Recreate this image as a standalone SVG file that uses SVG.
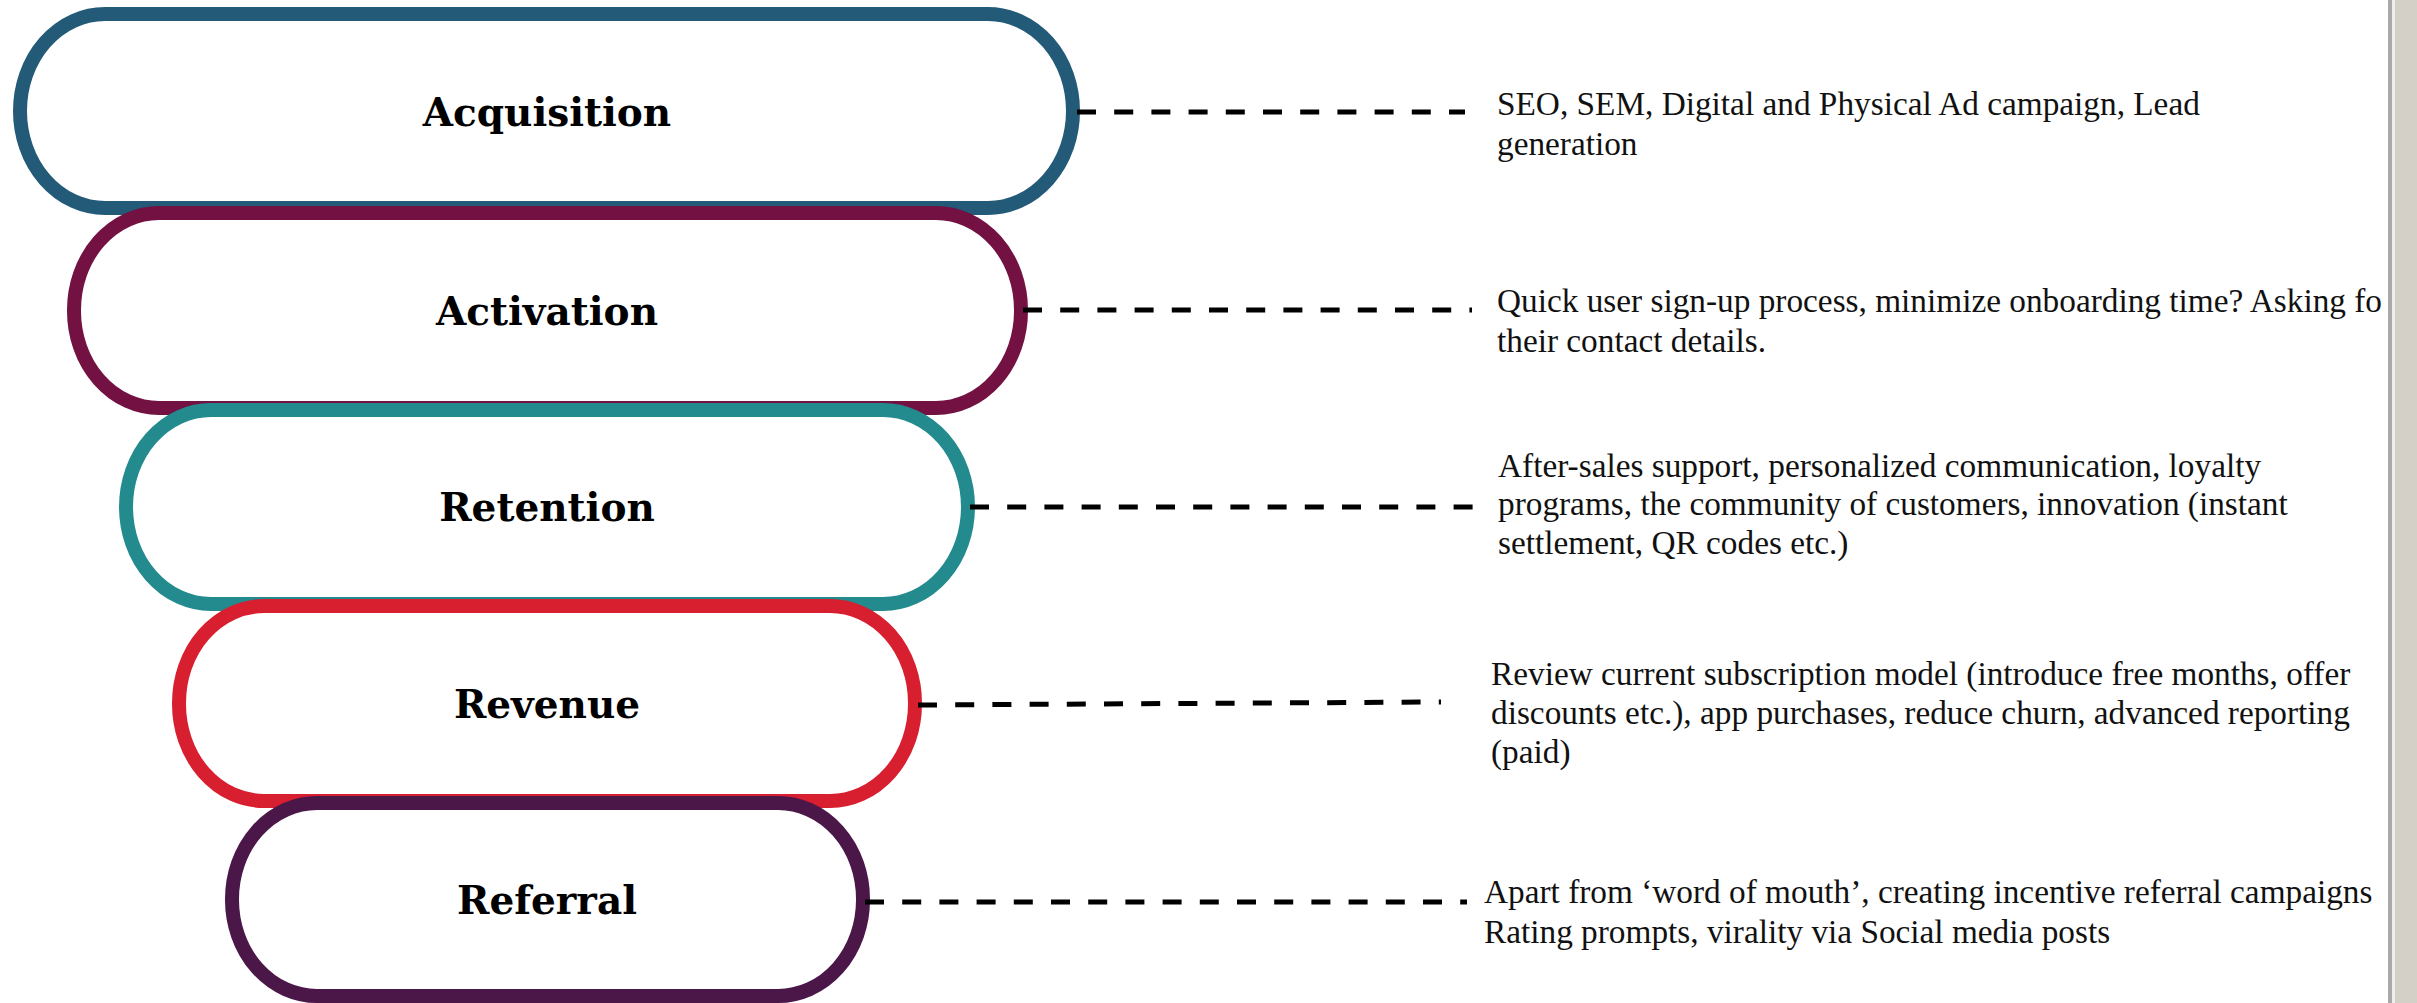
<svg xmlns="http://www.w3.org/2000/svg" width="2417" height="1003" viewBox="0 0 2417 1003">
<style>
.pill{fill:#ffffff;stroke-width:14}
.lbl{font-family:"DejaVu Serif","Liberation Serif",serif;font-weight:bold;font-size:39px;fill:#000;text-anchor:middle}
.desc{font-family:"Liberation Serif","Times New Roman",serif;font-size:33.3px;fill:#111}
.conn{stroke:#000;stroke-width:5;stroke-dasharray:19 18.2;fill:none}
</style>
<rect x="0" y="0" width="2417" height="1003" fill="#ffffff"/>
<g id="node-acquisition">
<rect class="pill" x="20" y="14" width="1053" height="194" rx="85" ry="97" stroke="#225a78"/>
<text class="lbl" x="547" y="126">Acquisition</text>
</g>
<g id="node-activation">
<rect class="pill" x="74" y="213" width="947" height="195" rx="85" ry="97" stroke="#731143"/>
<text class="lbl" x="547" y="325">Activation</text>
</g>
<g id="node-retention">
<rect class="pill" x="126" y="410" width="842" height="194" rx="85" ry="97" stroke="#238a8e"/>
<text class="lbl" x="547" y="521">Retention</text>
</g>
<g id="node-revenue">
<rect class="pill" x="179" y="606" width="736" height="195" rx="85" ry="97" stroke="#d81f2f"/>
<text class="lbl" x="547" y="718">Revenue</text>
</g>
<g id="node-referral">
<rect class="pill" x="232" y="803" width="631" height="193" rx="85" ry="96" stroke="#4b1749"/>
<text class="lbl" x="547" y="914">Referral</text>
</g>
<g id="connectors">
<line class="conn" x1="1077" y1="112" x2="1465" y2="112"/>
<line class="conn" x1="1023" y1="310" x2="1472" y2="310"/>
<line class="conn" x1="970" y1="507" x2="1476" y2="507"/>
<line class="conn" x1="918" y1="705" x2="1441" y2="702"/>
<line class="conn" x1="865" y1="902" x2="1467" y2="902"/>
</g>
<g id="desc-acquisition">
<text class="desc" x="1497" y="115">SEO, SEM, Digital and Physical Ad campaign, Lead</text>
<text class="desc" x="1497" y="155">generation</text>
</g>
<g id="desc-activation">
<text class="desc" x="1497" y="312">Quick user sign-up process, minimize onboarding time? Asking fo</text>
<text class="desc" x="1497" y="352">their contact details.</text>
</g>
<g id="desc-retention">
<text class="desc" x="1498" y="477">After-sales support, personalized communication, loyalty</text>
<text class="desc" x="1498" y="515">programs, the community of customers, innovation (instant</text>
<text class="desc" x="1498" y="554">settlement, QR codes etc.)</text>
</g>
<g id="desc-revenue">
<text class="desc" x="1491" y="685">Review current subscription model (introduce free months, offer</text>
<text class="desc" x="1491" y="724">discounts etc.), app purchases, reduce churn, advanced reporting</text>
<text class="desc" x="1491" y="763">(paid)</text>
</g>
<g id="desc-referral">
<text class="desc" x="1484" y="903">Apart from ‘word of mouth’, creating incentive referral campaigns</text>
<text class="desc" x="1484" y="943">Rating prompts, virality via Social media posts</text>
</g>
<rect x="2388" y="0" width="4" height="1003" fill="#a9a9a9"/>
<rect x="2392" y="0" width="3" height="1003" fill="#eeeeee"/>
<rect x="2395" y="0" width="22" height="1003" fill="#d4d0c8"/>
</svg>
